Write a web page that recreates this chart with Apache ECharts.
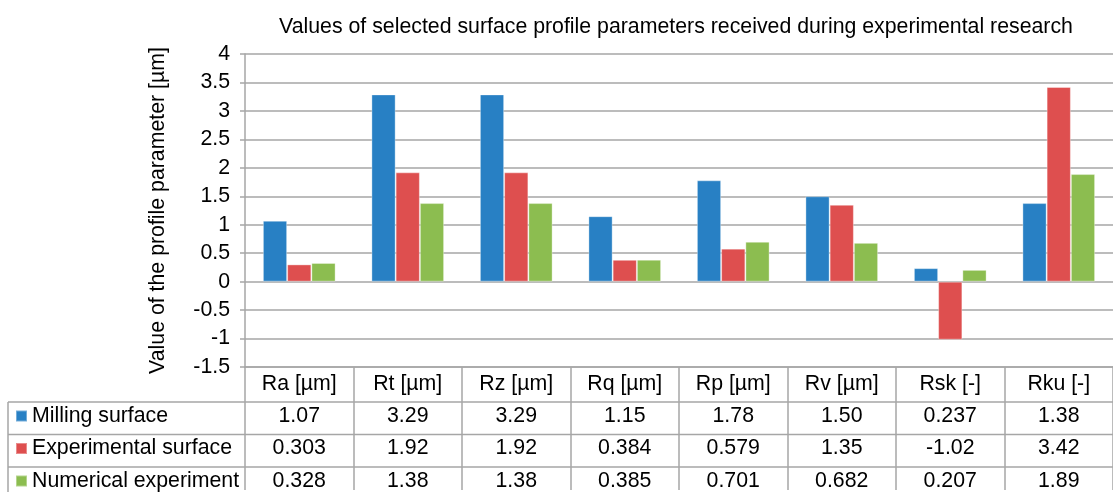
<!DOCTYPE html>
<html><head><meta charset="utf-8">
<script src="https://cdn.jsdelivr.net/npm/echarts@6/dist/echarts.min.js"></script>
<style>html,body{margin:0;padding:0;background:#fff}#c{width:1113px;height:492px}</style>
</head><body><div id="c"></div>
<script>
const categories = ['Ra [µm]','Rt [µm]','Rz [µm]','Rq [µm]','Rp [µm]','Rv [µm]','Rsk [-]','Rku [-]'];
const seriesNames = ['Milling surface','Experimental surface','Numerical experiment'];
const milling = [1.07, 3.29, 3.29, 1.15, 1.78, 1.50, 0.237, 1.38];
const experimental = [0.303, 1.92, 1.92, 0.384, 0.579, 1.35, -1.02, 3.42];
const numerical = [0.328, 1.38, 1.38, 0.385, 0.701, 0.682, 0.207, 1.89];
const yTicks = {min: -1.5, max: 4, interval: 0.5};

const colors = ['#2880C4', '#DE4F4F', '#8CBD50'];
const FONT = 'Liberation Sans, Arial, sans-serif';
const FS = 21.3;
const LINE = '#A6A6A6';
const allSeries = [milling, experimental, numerical];
const ROW = 32.5;

const chart = echarts.init(document.getElementById('c'), null, {renderer: 'canvas'});

const rowAxes = allSeries.map((vals, i) => ({
  type: 'category', gridIndex: 0, position: 'bottom', offset: 33 + i * ROW,
  data: vals.map(v => v.toPrecision(3)),
  axisLine: {show: false}, axisTick: {show: false}, splitLine: {show: false},
  axisLabel: {interval: 0, margin: 5, fontSize: FS, lineHeight: 22, color: '#000', fontFamily: FONT}
}));

const legends = seriesNames.map((n, i) => ({
  orient: 'vertical', left: 15, top: 405 + i * ROW, itemWidth: 11, itemHeight: 11, itemGap: 5,
  icon: 'rect', selectedMode: false, padding: 0,
  textStyle: {fontSize: FS, lineHeight: 22, color: '#000', fontFamily: FONT},
  data: [n]
}));

const gridLeft = 245, gridTop = 54, gridBottom = 123;
const H = 492;
const tableLines = [];
[402, 402 + ROW, 402 + 2 * ROW].forEach(y => tableLines.push({
  type: 'line', shape: {x1: 8, y1: y, x2: 1113, y2: y}, style: {stroke: LINE, lineWidth: 1.5}, silent: true
}));
tableLines.push({type: 'line', shape: {x1: 8, y1: 402, x2: 8, y2: H}, style: {stroke: LINE, lineWidth: 1.5}, silent: true});

chart.setOption({
  animation: false,
  color: colors,
  textStyle: {fontFamily: FONT},
  title: {
    text: 'Values of selected surface profile parameters received during experimental research',
    left: 671, top: 12, textAlign: 'center',
    textStyle: {fontSize: FS, fontWeight: 'normal', color: '#000', fontFamily: FONT}
  },
  legend: legends,
  grid: {left: gridLeft, right: -10, top: gridTop, bottom: gridBottom, containLabel: false},
  xAxis: [{
    type: 'category', data: categories, position: 'bottom',
    axisLine: {onZero: false, lineStyle: {color: LINE, width: 1.5}},
    axisTick: {show: true, interval: 0, length: 123, lineStyle: {color: LINE, width: 1.5}},
    axisLabel: {interval: 0, margin: 6, fontSize: FS, lineHeight: 22, color: '#000', fontFamily: FONT}
  }].concat(rowAxes),
  yAxis: {
    type: 'value', min: yTicks.min, max: yTicks.max, interval: yTicks.interval,
    name: 'Value of the profile parameter [µm]', nameLocation: 'middle', nameGap: 76, nameRotate: 90,
    nameTextStyle: {fontSize: FS, color: '#000', fontFamily: FONT},
    axisLine: {show: true, lineStyle: {color: LINE, width: 1.5}},
    axisTick: {show: true, length: 5, lineStyle: {color: LINE, width: 1.5}},
    axisLabel: {margin: 15, fontSize: FS, color: '#000', fontFamily: FONT},
    splitLine: {lineStyle: {color: LINE, width: 1.5}}
  },
  graphic: tableLines,
  series: allSeries.map((vals, i) => ({
    name: seriesNames[i], type: 'bar', xAxisIndex: 0, data: vals,
    barGap: '0%', barCategoryGap: '33%',
    itemStyle: {color: colors[i], borderColor: 'rgba(255,255,255,0.35)', borderWidth: 1}
  }))
});
</script></body></html>
